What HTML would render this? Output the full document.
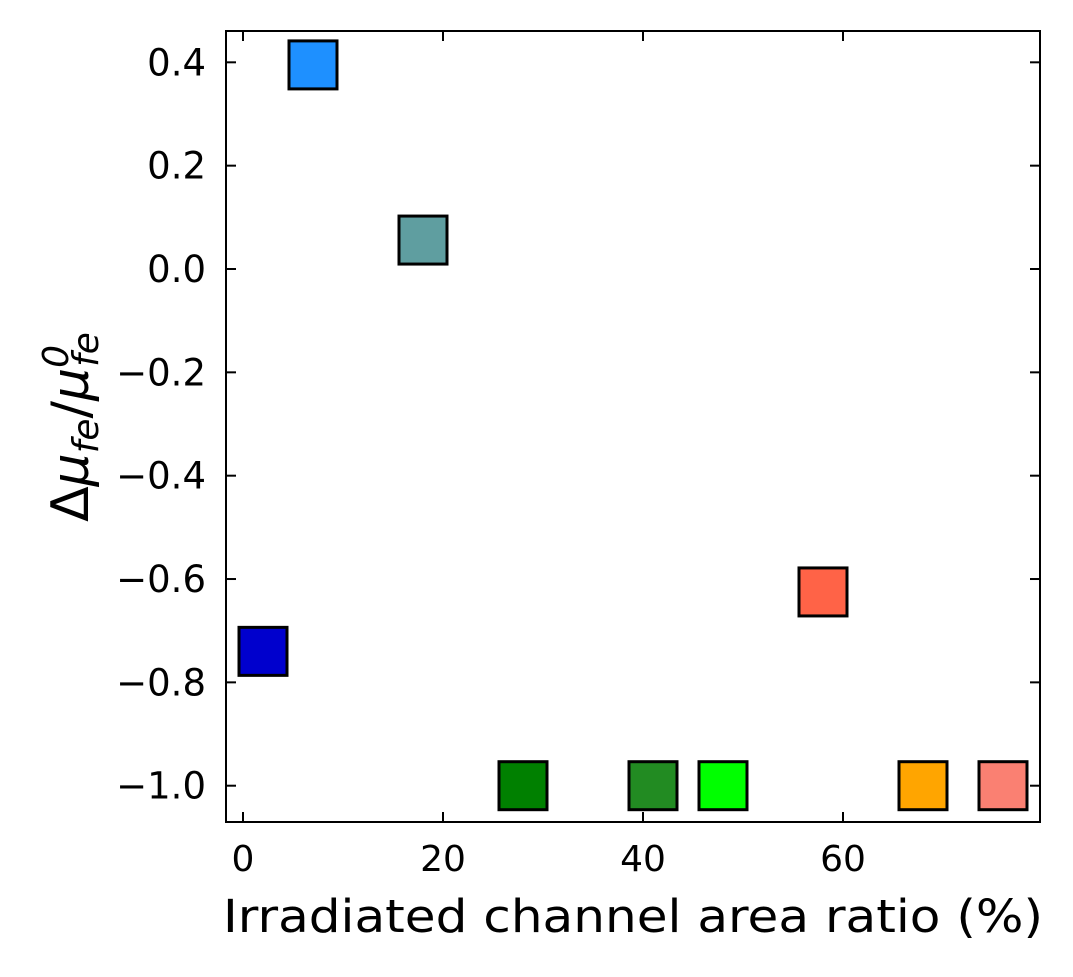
<!DOCTYPE html>
<html><head><meta charset="utf-8"><style>
body{margin:0;background:#fff;}
svg text{font-family:"DejaVu Sans","Liberation Sans",sans-serif;fill:#000;}
</style></head><body>
<svg id="chart" width="1073" height="972" xmlns="http://www.w3.org/2000/svg">
<rect x="226" y="31" width="814" height="791" fill="none" stroke="#000" stroke-width="2"/>
<g id="ticks"></g>
<g id="marks"></g>
<text x="633" y="932" font-size="45" text-anchor="middle" textLength="820" lengthAdjust="spacingAndGlyphs">Irradiated channel area ratio (%)</text>
<text transform="translate(88,427) rotate(-90)" font-size="52" text-anchor="middle">Δ<tspan font-style="italic">μ</tspan><tspan font-style="italic" font-size="36" dy="10">fe</tspan><tspan dy="-10">/</tspan><tspan font-style="italic">μ</tspan><tspan font-style="italic" font-size="36" dy="-20">0</tspan><tspan font-style="italic" font-size="36" dx="-22" dy="30">fe</tspan></text>
</svg>
<script>
const xVals=[7,18,2,58,28,41,48,68,76];
const yVals=[0.395,0.056,-0.74,-0.625,-1.0,-1.0,-1.0,-1.0,-1.0];
const colors=["#1E90FF","#5F9EA0","#0000CD","#FF6347","#008000","#228B22","#00FF00","#FFA500","#FA8072"];
const xTicks=[0,20,40,60];
const yTicks=[0.4,0.2,0.0,-0.2,-0.4,-0.6,-0.8,-1.0];
const yTickLabels=["0.4","0.2","0.0","−0.2","−0.4","−0.6","−0.8","−1.0"];
const sx=v=>243+10*v;
const sy=v=>269-v*516.7;
const NS="http://www.w3.org/2000/svg";
const tg=document.getElementById('ticks'),mg=document.getElementById('marks');
function mk(tag,attrs,parent){const e=document.createElementNS(NS,tag);for(const k in attrs)e.setAttribute(k,attrs[k]);parent.appendChild(e);return e;}
xTicks.forEach(t=>{const x=sx(t);
 let l=mk('line',{x1:x,x2:x,y1:822,y2:812,stroke:'#000','stroke-width':2},tg);
 
 
 l=mk('line',{x1:x,x2:x,y1:31,y2:41,stroke:'#000','stroke-width':2},tg);
 
 
 const tx=mk('text',{x:x,y:871,'font-size':36,'text-anchor':'middle'},tg);tx.textContent=t;
 
 
});
yTicks.forEach((t,i)=>{const y=sy(t);
 let l=mk('line',{x1:226,x2:236,y1:y,y2:y,stroke:'#000','stroke-width':2},tg);
 
 
 l=mk('line',{x1:1030,x2:1040,y1:y,y2:y,stroke:'#000','stroke-width':2},tg);
 
 
 const tx=mk('text',{x:206,y:y+13,'font-size':37,'text-anchor':'end'},tg);tx.textContent=yTickLabels[i];
 
 
});
xVals.forEach((v,i)=>{
 const r=mk('rect',{x:sx(v)-24,y:sy(yVals[i])-24,width:48,height:48,fill:colors[i],stroke:'#000','stroke-width':3},mg);
 
 
});
</script>
</body></html>
